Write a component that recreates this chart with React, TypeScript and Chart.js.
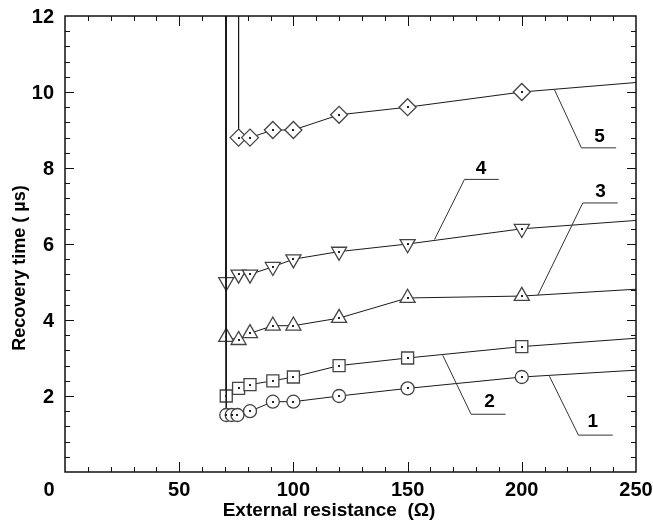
import React, { useEffect, useRef } from 'react';
import { Chart, registerables } from 'chart.js';

Chart.register(...registerables);

const FONT = "'Liberation Sans', Arial, sans-serif";

// Series (first point = vertical asymptote reaching the top of the frame)
const series1X = [70.6, 70.6, 73, 75.5, 81, 91, 100, 120, 150, 200, 250];
const series1Y = [12, 1.5, 1.5, 1.5, 1.6, 1.85, 1.85, 2.0, 2.2, 2.5, 2.68];

const series2X = [70.6, 70.6, 76, 81, 91, 100, 120, 150, 200, 250];
const series2Y = [12, 2.0, 2.2, 2.3, 2.4, 2.5, 2.8, 3.0, 3.3, 3.52];

const series3X = [70.6, 70.6, 76, 81, 91, 100, 120, 150, 200, 250];
const series3Y = [12, 3.55, 3.47, 3.65, 3.85, 3.85, 4.05, 4.58, 4.63, 4.81];

const series4X = [70.6, 70.6, 76, 81, 91, 100, 120, 150, 200, 250];
const series4Y = [12, 5.0, 5.2, 5.2, 5.4, 5.6, 5.8, 6.0, 6.4, 6.62];

const series5X = [76, 76, 81, 91, 100, 120, 150, 200, 250];
const series5Y = [12, 8.8, 8.8, 9.0, 9.0, 9.4, 9.6, 10.0, 10.25];

// Leader lines for the curve numbers
const leader1X = [212.1, 224.8, 239.8];
const leader1Y = [2.52, 0.97, 0.97];
const leader2X = [165.4, 177.8, 192.9];
const leader2Y = [3.07, 1.52, 1.52];
const leader3X = [207, 226.7, 242];
const leader3Y = [4.65, 7.08, 7.08];
const leader4X = [161.8, 174.9, 189.9];
const leader4Y = [6.12, 7.7, 7.7];
const leader5X = [214.3, 226.1, 241.3];
const leader5Y = [10.06, 8.53, 8.53];

const curveNames = ['1', '2', '3', '4', '5'];
const curveLabelX = [231.1, 185.9, 234.5, 182.2, 234];
const curveLabelY = [1.32, 1.84, 7.37, 7.99, 8.81];

const xTickValues = [50, 100, 150, 200, 250];
const xTickLabels = ['50', '100', '150', '200', '250'];
const yTickValues = [2, 4, 6, 8, 10, 12];
const yTickLabels = ['2', '4', '6', '8', '10', '12'];
const originLabel = '0';

const xTitle = 'External resistance  (Ω)';
const yTitle = 'Recovery time ( µs)';

const pts = (xs: number[], ys: number[]) => xs.map((x, i) => ({ x, y: ys[i] }));

const LINE = '#1a1a1a';
const MARK = '#444';

function seriesDataset(xs: number[], ys: number[], style: string, r: number, rotation = 0) {
  return {
    data: pts(xs, ys),
    borderColor: LINE,
    borderWidth: 1,
    backgroundColor: '#fff',
    pointStyle: style,
    pointRotation: rotation,
    pointBorderColor: MARK,
    pointBorderWidth: 1.3,
    pointBackgroundColor: '#fff',
    pointRadius: (ctx: any) => {
      const v = ctx.raw;
      if (!v) return 0;
      return v.y >= 12 || v.x >= 250 ? 0 : r;
    },
    pointHoverRadius: 0,
    tension: 0,
    isSeries: true,
  } as any;
}

function leaderDataset(xs: number[], ys: number[]) {
  return {
    data: pts(xs, ys),
    borderColor: '#333',
    borderWidth: 1,
    pointRadius: 0,
    pointHoverRadius: 0,
    tension: 0,
  } as any;
}

const framePlugin = {
  id: 'frame',
  afterDatasetsDraw(chart: any) {
    const ctx = chart.ctx;
    chart.data.datasets.forEach((ds: any, di: number) => {
      if (!ds.isSeries) return;
      const meta = chart.getDatasetMeta(di);
      meta.data.forEach((el: any, i: number) => {
        const v = ds.data[i];
        if (v.y >= 12 || v.x >= 250) return;
        ctx.save();
        ctx.fillStyle = '#222';
        ctx.fillRect(Math.round(el.x) - 1, Math.round(el.y) - 1, 2, 2);
        ctx.restore();
      });
    });
  },
  afterDraw(chart: any) {
    const ctx = chart.ctx;
    const a = chart.chartArea;
    const xs = chart.scales.x;
    const ys = chart.scales.y;
    ctx.save();
    ctx.strokeStyle = '#111';
    ctx.lineWidth = 1.5;
    ctx.strokeRect(a.left, a.top, a.right - a.left, a.bottom - a.top);
    ctx.lineWidth = 1;
    ctx.beginPath();
    for (let v = 10; v < 250; v += 10) {
      const px = Math.round(xs.getPixelForValue(v)) + 0.5;
      const len = v % 50 === 0 ? 10 : 5;
      ctx.moveTo(px, a.bottom);
      ctx.lineTo(px, a.bottom - len);
      ctx.moveTo(px, a.top);
      ctx.lineTo(px, a.top + len);
    }
    for (let i = 1; i < 30; i++) {
      const v = i * 0.4;
      const py = Math.round(ys.getPixelForValue(v)) + 0.5;
      const len = i % 5 === 0 ? 9 : 5;
      ctx.moveTo(a.left, py);
      ctx.lineTo(a.left + len, py);
      ctx.moveTo(a.right, py);
      ctx.lineTo(a.right - len, py);
    }
    ctx.stroke();

    ctx.fillStyle = '#000';
    ctx.font = `bold 20px ${FONT}`;
    ctx.textBaseline = 'middle';
    ctx.textAlign = 'center';
    xTickValues.forEach((v, i) => {
      ctx.fillText(xTickLabels[i], xs.getPixelForValue(v), 490);
    });
    ctx.fillText(originLabel, a.left - 16, 490);
    ctx.textAlign = 'right';
    yTickValues.forEach((v, i) => {
      ctx.fillText(yTickLabels[i], a.left - 11, ys.getPixelForValue(v) + 1);
    });

    ctx.font = `bold 19px ${FONT}`;
    ctx.textAlign = 'center';
    curveNames.forEach((n, i) => {
      ctx.fillText(n, xs.getPixelForValue(curveLabelX[i]), ys.getPixelForValue(curveLabelY[i]));
    });

    ctx.font = `bold 19px ${FONT}`;
    ctx.fillText(xTitle, 329, 511);
    ctx.font = `bold 18px ${FONT}`;
    ctx.save();
    ctx.translate(20, 268);
    ctx.rotate(-Math.PI / 2);
    ctx.fillText(yTitle, 0, 0);
    ctx.restore();
    ctx.restore();
  },
};

export default function App() {
  const ref = useRef<HTMLCanvasElement>(null);
  useEffect(() => {
    document.body.style.margin = '0';
    const canvas = ref.current!;
    const chart = new Chart(canvas, {
      type: 'line',
      data: {
        datasets: [
          leaderDataset(leader1X, leader1Y),
          leaderDataset(leader2X, leader2Y),
          leaderDataset(leader3X, leader3Y),
          leaderDataset(leader4X, leader4Y),
          leaderDataset(leader5X, leader5Y),
          seriesDataset(series1X, series1Y, 'circle', 6.5),
          seriesDataset(series2X, series2Y, 'rect', 8.5),
          seriesDataset(series3X, series3Y, 'triangle', 8.7),
          seriesDataset(series4X, series4Y, 'triangle', 8.7, 180),
          seriesDataset(series5X, series5Y, 'rectRot', 8.5),
        ],
      },
      options: {
        animation: false,
        responsive: false,
        devicePixelRatio: 1,
        layout: { padding: { left: 65, right: 17, top: 16, bottom: 52 } },
        plugins: { legend: { display: false }, tooltip: { enabled: false } },
        events: [],
        scales: {
          x: { type: 'linear', min: 0, max: 250, display: false },
          y: { type: 'linear', min: 0, max: 12, display: false },
        },
      },
      plugins: [framePlugin],
    });
    return () => chart.destroy();
  }, []);
  return (
    <div style={{ width: 653, height: 524, background: '#fff' }}>
      <canvas ref={ref} width={653} height={524} style={{ display: 'block' }} />
    </div>
  );
}
